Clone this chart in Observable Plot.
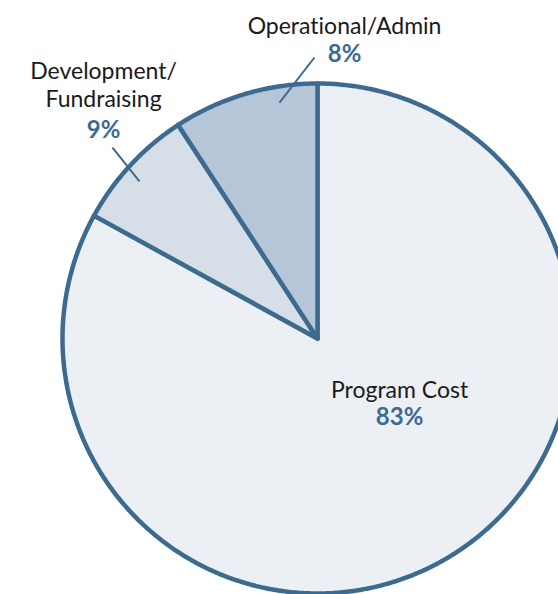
<!DOCTYPE html>
<html>
<head>
<meta charset="utf-8">
<script src="https://cdn.jsdelivr.net/npm/d3@7"></script>
<script src="https://cdn.jsdelivr.net/npm/@observablehq/plot@0.6"></script>
<style>
  html, body { margin: 0; padding: 0; background: #ffffff; overflow: hidden; }
  #chart svg { display: block; }
  #chart text { font-variant-ligatures: none; font-feature-settings: "liga" 0; }
</style>
</head>
<body>
<div id="chart"></div>
<script>
// ---- data ----
const categories = ["Program Cost", "Development/\nFundraising", "Operational/Admin"];
const shares = [83, 7.8, 9.2];          // slice sizes as drawn (clockwise from 12 o'clock)
const percentLabels = ["83%", "9%", "8%"]; // printed labels
const fills = ["#ecf0f5", "#d6dee8", "#b4c6d8"];

// ---- layout (in units of the pie radius, centre = 0,0) ----
const labelLayout = [
  {x: 0.322, yName: -0.235, yPct: -0.341, leader: null},
  {x: -0.839, yName: 0.906, yPct: 0.788, leader: [-0.804, 0.749, -0.698, 0.616]},
  {x: 0.106, yName: 1.196, yPct: 1.086, leader: [-0.012, 1.102, -0.149, 0.925]}
];

const W = 558, H = 594;
const cx = 317, cy = 338, R = 255; // pixel placement of the pie
const strokeColor = "#3d6b8f";

// build slice polygons in unit coordinates
const total = d3.sum(shares);
const slicePts = [];
let start = 0;
shares.forEach((s, i) => {
  const a0 = start / total * 2 * Math.PI;
  const a1 = (start + s) / total * 2 * Math.PI;
  start += s;
  slicePts.push({slice: i, x: 0, y: 0});
  const n = Math.max(2, Math.ceil((a1 - a0) / (Math.PI / 360)));
  for (let k = 0; k <= n; k++) {
    const a = a0 + (a1 - a0) * k / n;
    slicePts.push({slice: i, x: Math.sin(a), y: Math.cos(a)});
  }
  slicePts.push({slice: i, x: 0, y: 0});
});

const names = categories.map((c, i) => ({text: c, x: labelLayout[i].x, y: labelLayout[i].yName}));
const pcts = percentLabels.map((t, i) => ({text: t, x: labelLayout[i].x, y: labelLayout[i].yPct}));
const leaders = labelLayout.filter(d => d.leader).map(d => ({x1: d.leader[0], y1: d.leader[1], x2: d.leader[2], y2: d.leader[3]}));

const chart = Plot.plot({
  width: W,
  height: H,
  margin: 0,
  x: {domain: [-cx / R, (W - cx) / R], range: [0, W], axis: null},
  y: {domain: [-(H - cy) / R, cy / R], range: [H, 0], axis: null},
  style: {fontFamily: "Lato, 'Noto Sans', sans-serif", background: "#ffffff"},
  marks: [
    Plot.line(slicePts, {
      x: "x", y: "y", z: "slice",
      fill: d => fills[d.slice],
      stroke: strokeColor,
      strokeWidth: 4.5,
      strokeLinejoin: "round",
      curve: "linear"
    }),
    Plot.link(leaders, {x1: "x1", y1: "y1", x2: "x2", y2: "y2", stroke: strokeColor, strokeWidth: 2}),
    Plot.text(names, {
      x: "x", y: "y", text: "text",
      fontSize: 23, fill: "#1a1a1a",
      textAnchor: "middle", lineAnchor: "bottom", lineHeight: 1.26,
      letterSpacing: "0.7px"
    }),
    Plot.text(pcts, {
      x: "x", y: "y", text: "text",
      fontSize: 24, fontWeight: "bold", fill: strokeColor,
      textAnchor: "middle", lineAnchor: "bottom",
      letterSpacing: "0.8px"
    })
  ]
});
document.getElementById("chart").appendChild(chart);
</script>
</body>
</html>
